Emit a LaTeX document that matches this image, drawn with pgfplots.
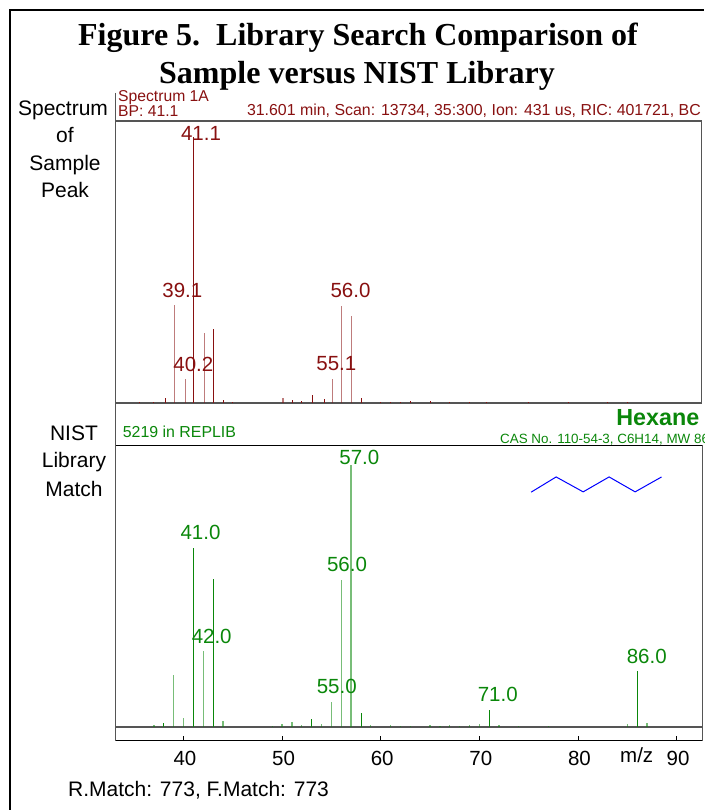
\documentclass[border=0pt]{standalone}
\usepackage{pgfplots}
\usepackage{fontspec}
\setmainfont{Liberation Sans}
\newfontfamily\serifb{Liberation Serif}[BoldFont={Liberation Serif Bold}]
\pgfplotsset{compat=1.18}
\definecolor{dred}{RGB}{136,16,16}
\definecolor{dgreen}{RGB}{10,135,10}
\definecolor{axgray}{RGB}{85,85,85}
\newcommand{\T}[5][base]{\node[anchor=#1,inner sep=0pt,text=#2] at (#3pt,{810pt-#4pt}) {#5};}
\newcommand{\fs}[1]{\fontsize{#1}{#1}\selectfont}
\begin{document}
\begin{tikzpicture}
\clip (0pt,0pt) rectangle (704pt,810pt);
\path[use as bounding box] (0pt,0pt) rectangle (704pt,810pt);
\draw[line width=2pt,black] (9.5pt,0pt) -- (9.5pt,799.5pt) -- (704pt,799.5pt);
% upper panel
\begin{axis}[
  at={(115.5pt,407pt)},anchor=south west,scale only axis,
  width=586pt,height=282pt,
  xmin=33.11,xmax=92.5,ymin=0,ymax=106,
  xtick=\empty,ytick=\empty,
  axis line style={axgray,line width=1.2pt},
  clip=true]
\addplot[ycomb,dred,line width=0.9pt,mark=none] coordinates {
(35.5,0.3)(37,0.3)(38.2,1.7)(41.05,100)(43.07,27.7)(44.1,1)(45,0.4)
(51,1.3)(52,0.6)(53.1,3)(54.3,1.6)(58,2)
(60,0.4)(61,0.4)(62,0.5)(63,0.6)(65,0.6)(67,0.5)(69,0.5)(70.7,0.5)(75,0.3)(79,0.3)(83,0.3)(85,0.3)};
\addplot[ycomb,dred,line width=1.3pt,opacity=0.55,mark=none] coordinates {
(39.09,36.8)(40.2,9)(42.1,26.4)(50.1,1.8)(55.07,9)(56,36.5)(57,32.8)};
\end{axis}
% lower panel
\begin{axis}[
  at={(115.5pt,69pt)},anchor=south west,scale only axis,
  width=586.5pt,height=295.7pt,
  xmin=33.11,xmax=92.58,ymin=-5.34,ymax=107.7,
  xtick={40,50,60,70,80,90},ytick=\empty,
  tick align=inside,xtick pos=lower,
  major tick length=4.5pt,
  tick style={black,line width=0.8pt},
  axis line style={black,line width=1pt},
  xticklabel style={font=\fs{20.5},text=black,xshift=1.5pt,yshift=-7pt},
  /pgf/number format/assume math mode=true,
  clip=true]
\addplot[axgray,line width=1.4pt,mark=none] coordinates {(33.11,0)(92.58,0)};
\addplot[ycomb,dgreen,line width=0.9pt,mark=none] coordinates {
(38,1.6)(41,68.3)(43,56.5)(53,3.2)(58,5.3)(71,6.7)(86,21.4)};
\addplot[ycomb,dgreen,line width=1.3pt,opacity=0.55,mark=none] coordinates {
(37,0.7)(39,19.8)(40,3.4)(42,29)(44,2.2)(49,0.5)
(50,1.3)(51,1.9)(52,0.7)(54,1)(55,9.5)(56,56.1)(57,100)(59,0.6)
(61,0.6)(62,0.5)(63,0.5)(65,0.8)(66,0.5)(67,0.6)(68,0.5)(69,0.6)(70,1)(72,0.7)
(74,0.5)(77,0.5)(85,1)(87,1.7)};
\addplot[blue,line width=1pt,mark=none] coordinates {
(75.26,89.8)(77.79,95.6)(80.53,89.9)(83.16,95.6)(85.8,89.9)(88.48,95.6)};
\end{axis}
\draw[axgray,line width=1pt] (115.5pt,717pt) -- (115.5pt,69pt);
\draw[axgray,line width=1pt] (702pt,69pt) -- (702pt,365pt);
% title
\T{black}{358}{46}{\serifb\bfseries\fs{32}Figure 5.\ \ Library Search Comparison of}
\T{black}{357}{83.3}{\serifb\bfseries\fs{32}Sample versus NIST Library}
% side labels
\T{black}{63}{116}{\fs{21}Spectrum}
\T{black}{65}{143}{\fs{21}of}
\T{black}{65}{171}{\fs{21}Sample}
\T{black}{65}{198}{\fs{21}Peak}
\T{black}{74}{440.7}{\fs{21}NIST}
\T{black}{74}{468}{\fs{21}Library}
\T{black}{74}{496.7}{\fs{21}Match}
% headers
\T[base west]{dred}{118}{102}{\fs{15.7}Spectrum 1A}
\T[base west]{dred}{118}{117}{\fs{15.7}BP: 41.1}
\T[base east]{dred}{701}{115.5}{\fs{15.9}31.601 min, Scan: 13734, 35:300, Ion: 431 us, RIC: 401721, BC}
\T[base east]{dgreen}{699.5}{426}{\bfseries\fs{23.3}Hexane}
\T[base west]{dgreen}{500}{444}{\fs{13.4}CAS No. 110-54-3, C6H14, MW 86}
\T[base west]{dgreen}{122.7}{438}{\fs{15.9}5219 in REPLIB}
% peak labels
\T{dred}{201}{141}{\fs{20.5}41.1}
\T{dred}{182.3}{297.3}{\fs{20.5}39.1}
\T{dred}{193.3}{371.7}{\fs{20.5}40.2}
\T{dred}{350.5}{297.5}{\fs{20.5}56.0}
\T{dred}{336.3}{371}{\fs{20.5}55.1}
\T{dgreen}{359.3}{465}{\fs{20.5}57.0}
\T{dgreen}{200.5}{540}{\fs{20.5}41.0}
\T{dgreen}{347}{572}{\fs{20.5}56.0}
\T{dgreen}{211.7}{644}{\fs{20.5}42.0}
\T{dgreen}{336.7}{694}{\fs{20.5}55.0}
\T{dgreen}{497.7}{702}{\fs{20.5}71.0}
\T{dgreen}{646.7}{664}{\fs{20.5}86.0}
\T{black}{636.7}{762.7}{\fs{20.5}m/z}
\T[base west]{black}{68}{796.5}{\fs{21}R.Match: 773, F.Match: 773}
\end{tikzpicture}
\end{document}
